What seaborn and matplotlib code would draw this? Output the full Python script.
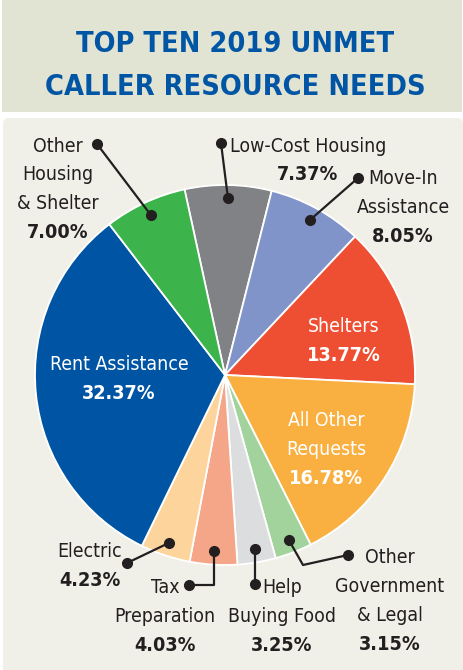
import matplotlib
matplotlib.use("Agg")
import matplotlib.pyplot as plt
from matplotlib.patches import FancyBboxPatch, Rectangle
import numpy as np
import seaborn as sns

# ---------------- data ----------------
categories = ["Low-Cost Housing", "Move-In Assistance", "Shelters", "All Other Requests",
              "Other Government & Legal", "Help Buying Food", "Tax Preparation",
              "Electric", "Rent Assistance", "Other Housing & Shelter"]
shares = [7.37, 8.05, 13.77, 16.78, 3.15, 3.25, 4.03, 4.23, 32.37, 7.00]
display_names = ["Low-Cost Housing", "Move-In\nAssistance", "Shelters", "All Other\nRequests",
                 "Other\nGovernment\n& Legal", "Help\nBuying Food", "Tax\nPreparation",
                 "Electric", "Rent Assistance", "Other\nHousing\n& Shelter"]
title_lines = ["TOP TEN 2019 UNMET", "CALLER RESOURCE NEEDS"]

# ---------------- style ----------------
sns.set_style("white")
NARROW = ["DejaVu Sans"]
plt.rcParams["font.family"] = NARROW
STRETCH = "condensed"

colors = ["#808285", "#8194c9", "#ee4f33", "#f9b040", "#a3d39c",
          "#dcdddf", "#f5a588", "#fdd49b", "#0054a4", "#3cb44b"]
inside = {"Shelters", "All Other Requests", "Rent Assistance"}
DARK = "#231f20"

W, H = 464, 670
fig = plt.figure(figsize=(W / 100, H / 100), dpi=100)
ax = fig.add_axes([0, 0, 1, 1])
ax.set_xlim(0, W)
ax.set_ylim(0, H)
renderer = fig.canvas.get_renderer()

def P(x, y):
    """pixel (top-left origin) -> data (bottom-left origin)"""
    return x, H - y

def width_of(s, size, weight="normal"):
    t = ax.text(0, 0, s, fontsize=size, fontstretch=STRETCH, family=NARROW, fontweight=weight)
    w = t.get_window_extent(renderer).width
    t.remove()
    return w

# background
ax.add_patch(Rectangle(P(2, 112), 460, 112, facecolor="#e1e3d3", edgecolor="none", zorder=0))
ax.add_patch(FancyBboxPatch(P(3, 700), 460, 700 - 118,
                            boxstyle="round,pad=0,rounding_size=6",
                            facecolor="#f1f0e8", edgecolor="none", zorder=0))

# title
title_w = [330, 380]
tsize = min(26.5 * title_w[i] / width_of(l, 26.5, "bold") for i, l in enumerate(title_lines))
for i, line in enumerate(title_lines):
    ax.text(*P(235, 51.5 + 43.5 * i), line, ha="center", va="baseline", fontsize=tsize,
            fontstretch=STRETCH, family=NARROW, fontweight="bold", color="#0055a4", zorder=5)

# pie
cx, cy = P(225, 375)
R = 190
wedges, _ = ax.pie(shares, colors=colors, startangle=102.3, counterclock=False,
                   center=(cx, cy), radius=R,
                   wedgeprops=dict(edgecolor="white", linewidth=1.3))
for w in wedges:
    w.set_zorder(2)

# label layout: (center x, first baseline px)
label_pos = {
    "Low-Cost Housing": (308, 151.5),
    "Move-In Assistance": (403, 184.5),
    "Shelters": (344, 332),
    "All Other Requests": (326, 426),
    "Other Government & Legal": (390, 563),
    "Help Buying Food": (282, 593),
    "Tax Preparation": (165, 593),
    "Electric": (90, 557),
    "Rent Assistance": (119, 370),
    "Other Housing & Shelter": (58, 151.5),
}
ref_w = {"Low-Cost Housing": 150, "Buying Food": 105, "Government": 107,
         "Preparation": 97, "Rent Assistance": 130, "Assistance": 86}
ratios = [ref_w[s] / width_of(s, 15.5) for s in ref_w]
nsize = 15.5 * float(np.median(ratios)) * 1.04
psize = 17.5 * min(61 / width_of("7.00%", 17.5, "bold"), 72 / width_of("13.77%", 17.5, "bold")) * 1.03
LS = 29

for cat, name, val in zip(categories, display_names, shares):
    x, y0 = label_pos[cat]
    col = "white" if cat in inside else DARK
    lines = name.split("\n")
    for i, ln in enumerate(lines):
        ax.text(*P(x, y0 + LS * i), ln, ha="center", va="baseline", fontsize=nsize,
                fontstretch=STRETCH, color=col, family=NARROW, zorder=5)
    ax.text(*P(x, y0 + LS * len(lines)), f"{val:.2f}%", ha="center", va="baseline",
            fontsize=psize, fontstretch=STRETCH, family=NARROW, fontweight="bold",
            color=col, zorder=5)

# leader lines
def inner_point(w, f=0.93):
    a = np.deg2rad((w.theta1 + w.theta2) / 2)
    return w.center[0] + f * w.r * np.cos(a), w.center[1] + f * w.r * np.sin(a)

wmap = dict(zip(categories, wedges))
leaders = {
    "Other Housing & Shelter": [(97, 144)],
    "Low-Cost Housing": [(221, 143)],
    "Move-In Assistance": [(358, 178)],
    "Electric": [(127, 563)],
    "Other Government & Legal": [(303, 565), (348, 555)],
}
for cat, pts in leaders.items():
    ix, iy = inner_point(wmap[cat])
    xs = [ix] + [P(*p)[0] for p in pts]
    ys = [iy] + [P(*p)[1] for p in pts]
    ax.plot(xs, ys, color=DARK, lw=1.6, zorder=6, solid_capstyle="round")
    ax.plot([xs[0], xs[-1]], [ys[0], ys[-1]], "o", color=DARK, ms=7, zorder=7)

ix, iy = inner_point(wmap["Tax Preparation"])
ex, ey = P(189, 585)
ax.plot([ix, ix, ex], [iy, ey, ey], color=DARK, lw=1.6, zorder=6)
ax.plot([ix, ex], [iy, ey], "o", color=DARK, ms=7, zorder=7)

ix, iy = inner_point(wmap["Help Buying Food"])
ex, ey = P(0, 584)
ax.plot([ix, ix], [iy, ey], color=DARK, lw=1.6, zorder=6)
ax.plot([ix, ix], [iy, ey], "o", color=DARK, ms=7, zorder=7)

ax.set_xlim(0, W)
ax.set_ylim(0, H)
ax.set_aspect("equal")
ax.axis("off")
fig.patch.set_facecolor("white")
fig.savefig("out.png", dpi=100, facecolor="white")
